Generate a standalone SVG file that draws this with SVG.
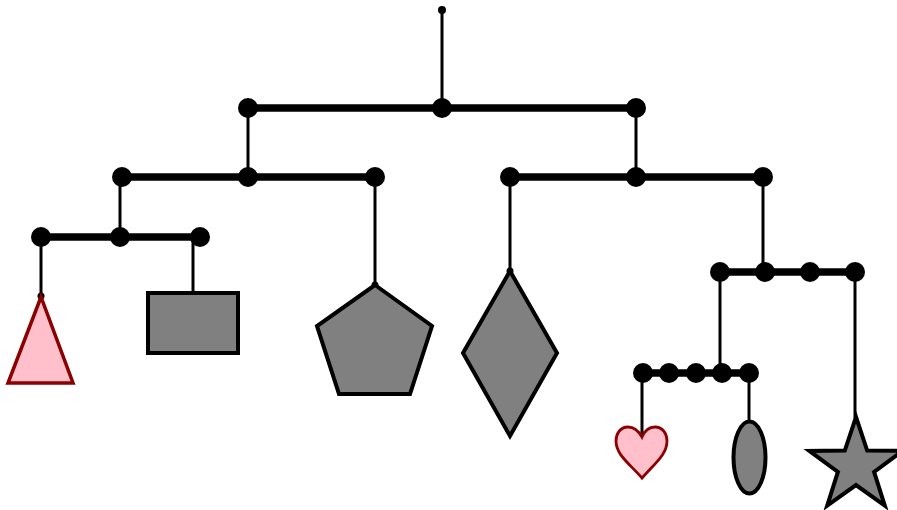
<svg xmlns="http://www.w3.org/2000/svg" width="897" height="510" viewBox="0 0 897 510">
<style>
.bar{stroke:#000;stroke-width:7.5;fill:none}
.str{stroke:#000;stroke-width:3;fill:none}
.j{fill:#000}
.gray{fill:#808080;stroke:#000;stroke-width:4;stroke-linejoin:miter}
.pink{fill:#ffc0cb;stroke:#8b0000;stroke-width:3.5}
</style>
<rect width="897" height="510" fill="#fff"/>
<g id="connectors">
<line class="str" x1="442" y1="10" x2="442" y2="108"/>
<line class="bar" x1="248" y1="108" x2="636" y2="108"/>
<line class="str" x1="248" y1="108" x2="248" y2="177"/>
<line class="str" x1="636" y1="108" x2="636" y2="177"/>
<line class="bar" x1="122" y1="177" x2="375" y2="177"/>
<line class="bar" x1="510" y1="177" x2="763" y2="177"/>
<line class="str" x1="120" y1="177" x2="120" y2="237"/>
<line class="bar" x1="40" y1="237" x2="200" y2="237"/>
<line class="str" x1="41" y1="237" x2="41" y2="296"/>
<line class="str" x1="193" y1="237" x2="193" y2="293"/>
<line class="str" x1="375" y1="177" x2="375" y2="285"/>
<line class="str" x1="510" y1="177" x2="510" y2="271"/>
<line class="str" x1="763" y1="177" x2="763" y2="272"/>
<line class="bar" x1="720" y1="272" x2="855" y2="272"/>
<line class="str" x1="720" y1="272" x2="720" y2="373"/>
<line class="str" x1="855" y1="272" x2="855" y2="418"/>
<line class="bar" x1="643" y1="373" x2="749" y2="373"/>
<line class="str" x1="642" y1="373" x2="642" y2="436"/>
<line class="str" x1="749" y1="373" x2="749" y2="422"/>
<circle class="j" cx="442" cy="10" r="4"/>
<circle class="j" cx="248" cy="108" r="10"/>
<circle class="j" cx="442" cy="108" r="10"/>
<circle class="j" cx="636" cy="108" r="10"/>
<circle class="j" cx="122" cy="177" r="10"/>
<circle class="j" cx="248" cy="177" r="10"/>
<circle class="j" cx="375" cy="177" r="10"/>
<circle class="j" cx="510" cy="177" r="10"/>
<circle class="j" cx="636" cy="177" r="10"/>
<circle class="j" cx="763" cy="177" r="10"/>
<circle class="j" cx="41" cy="237" r="10"/>
<circle class="j" cx="120" cy="237" r="10"/>
<circle class="j" cx="200" cy="237" r="10"/>
<circle class="j" cx="720" cy="272" r="10"/>
<circle class="j" cx="765" cy="272" r="10"/>
<circle class="j" cx="810" cy="272" r="10"/>
<circle class="j" cx="855" cy="272" r="10"/>
<circle class="j" cx="643" cy="373" r="10"/>
<circle class="j" cx="669" cy="373" r="10"/>
<circle class="j" cx="696" cy="373" r="10"/>
<circle class="j" cx="722" cy="373" r="10"/>
<circle class="j" cx="749" cy="373" r="10"/>
<circle class="j" cx="41" cy="296" r="3.5"/>
<circle class="j" cx="375" cy="285" r="3.5"/>
<circle class="j" cx="510" cy="271" r="3.5"/>
</g>
<g id="triangle"><polygon class="pink" points="41,297 8,383 73,383"/></g>
<g id="rectangle"><rect class="gray" x="148" y="293" width="90" height="60"/></g>
<g id="pentagon"><polygon class="gray" points="375,285 432,326 410,394 339,394 317,326"/></g>
<g id="diamond"><polygon class="gray" points="510,271 557,353 510,436 463,353"/></g>
<g id="heart"><path class="pink" style="stroke-width:2.8" d="M642,437 C638,430 634,427 628,427 C620,427 616,434 616,441 C616,455 630,464 642,478 C654,464 667,455 667,441 C667,434 663,427 655,427 C649,427 645,430 642,437 Z"/></g>
<g id="ellipse"><ellipse class="gray" cx="749.5" cy="457.5" rx="16" ry="36"/></g>
<g id="star"><polygon class="gray" points="856,417 867.2,450.6 902.6,450.9 874.1,471.9 884.8,505.6 856,485 827.2,505.6 837.9,471.9 809.4,450.9 844.8,450.6"/></g>
</svg>
